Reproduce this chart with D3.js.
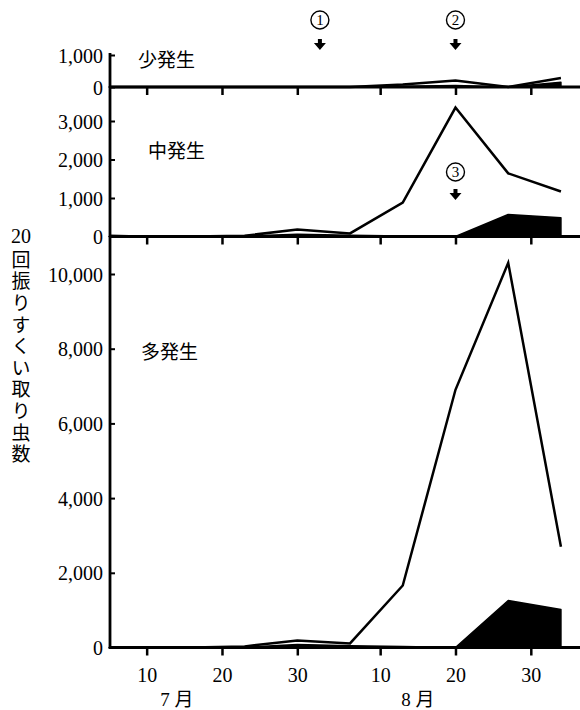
<!DOCTYPE html>
<html>
<head>
<meta charset="utf-8">
<script src="https://cdn.jsdelivr.net/npm/d3@7"></script>
<style>
  body { margin: 0; background: #fff; }
  svg { display: block; }
</style>
</head>
<body>
<svg id="chart" width="580" height="710"></svg>
<script>
// sampling dates (month-day)
var dates = ["07-05", "07-09", "07-16", "07-23", "07-30", "08-06", "08-13", "08-20", "08-27", "09-03"];

// 少発生
var lowTotal = [0, 0, 0, 0, 0, 0, 80, 200, 0, 280];
var lowBlack = [0, 0, 0, 0, 0, 0, 20, 50, 0, 150];
// 中発生
var midTotal = [20, 0, 0, 20, 180, 80, 880, 3350, 1640, 1170];
var midBlack = [0, 0, 0, 10, 60, 30, 10, 0, 570, 490];
// 多発生
var highTotal = [0, 0, 0, 30, 190, 110, 1660, 6900, 10300, 2700];
var highBlack = [0, 0, 0, 10, 80, 50, 30, 0, 1260, 1020];

var panelNames = ["少発生", "中発生", "多発生"];
var lowTicks = [0, 1000];
var midTicks = [0, 1000, 2000, 3000];
var highTicks = [0, 2000, 4000, 6000, 8000, 10000];
var xTickDates = ["07-10", "07-20", "07-30", "08-10", "08-20", "08-30"];
var monthLabels = ["7 月", "8 月"];
var monthDates = ["07-14", "08-15"];

var markerLabels = ["1", "2", "3"];
var markerDates = ["08-02", "08-20", "08-20"];

var yTitleTop = "20";
var yTitleRest = "回振りすくい取り虫数";

var SERIF = "'Liberation Serif', 'Times New Roman', 'DejaVu Serif', serif";
var JP = "'Noto Sans CJK JP', sans-serif";

var parse = d3.timeParse("%m-%d");
var svg = d3.select("#chart");

var x = d3.scaleTime()
    .domain([parse("07-05"), parse("09-05")])
    .range([109, 576]);
var xEnd = 580;

var panels = [
    { name: panelNames[0], total: lowTotal, black: lowBlack, ticks: lowTicks,
      y: d3.scaleLinear().domain([0, 1000]).range([87, 55]), lx: 138, ly: 60 },
    { name: panelNames[1], total: midTotal, black: midBlack, ticks: midTicks,
      y: d3.scaleLinear().domain([0, 3000]).range([236.5, 121]), lx: 148, ly: 151 },
    { name: panelNames[2], total: highTotal, black: highBlack, ticks: highTicks,
      y: d3.scaleLinear().domain([0, 10000]).range([647.5, 274]), lx: 141, ly: 352 }
];

var fmt = d3.format(",");

panels.forEach(function(p, pi) {
    var data = dates.map(function(d, i) {
        return { date: parse(d), total: p.total[i], black: p.black[i] };
    });

    // black area
    var area = d3.area()
        .x(function(d) { return x(d.date); })
        .y0(p.y(0))
        .y1(function(d) { return p.y(d.black); });
    svg.append("path")
        .datum(data)
        .attr("d", area)
        .attr("fill", "#000")
        .attr("stroke", "#000")
        .attr("stroke-width", 1.5)
        .attr("stroke-linejoin", "round");

    // total line
    var line = d3.line()
        .x(function(d) { return x(d.date); })
        .y(function(d) { return p.y(d.total); });
    svg.append("path")
        .datum(data)
        .attr("d", line)
        .attr("fill", "none")
        .attr("stroke", "#000")
        .attr("stroke-width", 2.5);

    // x axis (line + ticks)
    var y0 = p.y(0);
    svg.append("line")
        .attr("x1", 109).attr("x2", xEnd)
        .attr("y1", y0).attr("y2", y0)
        .attr("stroke", "#000")
        .attr("stroke-width", 2.8);

    var xAxis = d3.axisBottom(x)
        .tickValues(xTickDates.map(parse))
        .tickSize(8)
        .tickSizeOuter(0)
        .tickPadding(12)
        .tickFormat(pi === 2 ? d3.timeFormat("%-d") : "");
    var gx = svg.append("g")
        .attr("transform", "translate(0," + y0 + ")")
        .call(xAxis);
    gx.select(".domain").remove();
    gx.selectAll(".tick line").attr("stroke-width", 2.5);
    gx.selectAll(".tick text")
        .style("font-family", SERIF)
        .style("font-size", "20px")
        .attr("fill", "#000");

    // y axis ticks and labels
    var yAxis = d3.axisLeft(p.y)
        .tickValues(p.ticks)
        .tickSize(-5)
        .tickSizeOuter(0)
        .tickPadding(7)
        .tickFormat(fmt);
    var gy = svg.append("g")
        .attr("transform", "translate(110,0)")
        .call(yAxis);
    gy.select(".domain").remove();
    gy.selectAll(".tick line").attr("stroke-width", 2);
    gy.selectAll(".tick text")
        .style("font-family", SERIF)
        .style("font-size", "20px")
        .attr("fill", "#000")
        .attr("dy", "0.35em");

    // panel name
    svg.append("text")
        .style("font-family", JP)
        .attr("x", p.lx)
        .attr("y", p.ly)
        .attr("dy", "0.35em")
        .style("font-size", "19px")
        .text(p.name);
});

// continuous y axis line
svg.append("line")
    .attr("x1", 110).attr("x2", 110)
    .attr("y1", 53).attr("y2", 649)
    .attr("stroke", "#000")
    .attr("stroke-width", 2.8);

// month labels
svg.selectAll(".month")
    .data(monthLabels)
    .enter().append("text")
    .attr("class", "month")
    .attr("x", function(d, i) { return x(parse(monthDates[i])); })
    .attr("y", 699)
    .attr("dy", "0.35em")
    .attr("text-anchor", "middle")
    .style("font-family", "'Liberation Serif', 'Noto Sans CJK JP', serif")
    .style("font-size", "19px")
    .text(function(d) { return d; });

// markers: circled number above a down arrow
var markerY = [[20, 45], [20, 45], [172, 195]];
var arrowPath = "M-2,-6 L2,-6 L2,-2 L6,-2 L0,5 L-6,-2 L-2,-2 Z";
markerLabels.forEach(function(m, i) {
    var mx = x(parse(markerDates[i]));
    svg.append("circle")
        .attr("cx", mx)
        .attr("cy", markerY[i][0])
        .attr("r", 9)
        .attr("fill", "none")
        .attr("stroke", "#000")
        .attr("stroke-width", 1.4);
    svg.append("text")
        .attr("x", mx)
        .attr("y", markerY[i][0])
        .attr("dy", "0.35em")
        .attr("text-anchor", "middle")
        .style("font-family", SERIF)
        .style("font-size", "15px")
        .text(m);
    svg.append("path")
        .attr("d", arrowPath)
        .attr("transform", "translate(" + mx + "," + markerY[i][1] + ")")
        .attr("fill", "#000");
});

// vertical y axis title: "20" upright on top, rest in vertical writing
svg.append("text")
    .attr("x", 21)
    .attr("y", 236)
    .attr("dy", "0.35em")
    .attr("text-anchor", "middle")
    .style("font-family", SERIF)
    .style("font-size", "20px")
    .text(yTitleTop);

svg.append("text")
    .attr("x", 21)
    .attr("y", 250)
    .style("writing-mode", "vertical-rl")
    .style("font-family", JP)
    .style("font-size", "19px")
    .style("letter-spacing", "2.6px")
    .text(yTitleRest);
</script>
</body>
</html>
